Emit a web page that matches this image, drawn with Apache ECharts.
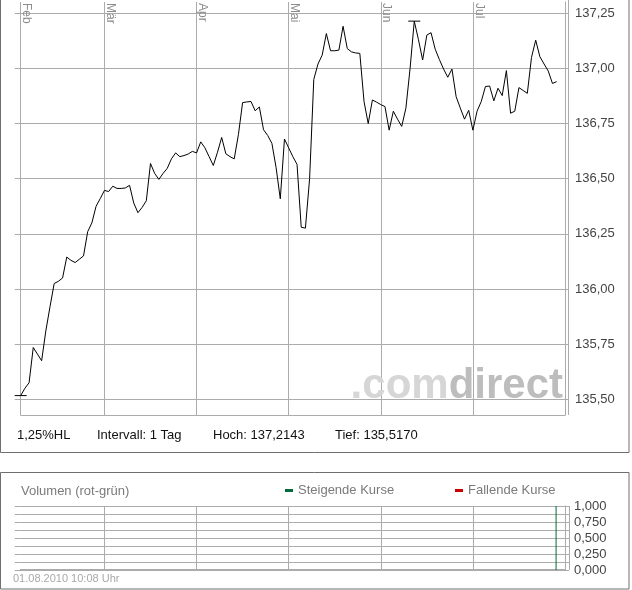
<!DOCTYPE html>
<html>
<head>
<meta charset="utf-8">
<script src="https://cdn.jsdelivr.net/npm/echarts@6/dist/echarts.min.js"></script>
<style>
html,body{margin:0;padding:0;background:#fff;}
#chart{width:632px;height:590px;}
</style>
</head>
<body>
<div id="chart"></div>
<script>
// ---- data ----
const monthNames = ['Feb', 'Mär', 'Apr', 'Mai', 'Jun', 'Jul'];
const monthStartIndex = [0, 20, 42, 64, 86, 108];
const slotCount = 131;
const categories = Array.from({length: slotCount}, (_, i) => 'Tag ' + (i + 1));

const priceValues = [
  135.517, 135.550, 135.575, 135.735, 135.705, 135.675, 135.810, 135.920, 136.025, 136.035,
  136.050, 136.145, 136.130, 136.120, 136.135, 136.150, 136.260, 136.300, 136.375, 136.410,
  136.447, 136.442, 136.466, 136.456, 136.456, 136.458, 136.470, 136.390, 136.346, 136.370,
  136.400, 136.569, 136.524, 136.497, 136.524, 136.547, 136.590, 136.617, 136.600, 136.605,
  136.612, 136.624, 136.617, 136.667, 136.640, 136.600, 136.560, 136.620, 136.687, 136.613,
  136.600, 136.590, 136.700, 136.845, 136.848, 136.850, 136.808, 136.825, 136.722, 136.696,
  136.660, 136.550, 136.409, 136.680, 136.640, 136.600, 136.565, 136.280, 136.276, 136.500,
  136.950, 137.020, 137.060, 137.158, 137.080, 137.080, 137.083, 137.191, 137.090, 137.075,
  137.070, 137.068, 136.850, 136.750, 136.857, 136.847, 136.836, 136.827, 136.720, 136.806,
  136.770, 136.737, 136.820, 137.000, 137.2143, 137.130, 137.038, 137.151, 137.162, 137.087,
  137.040, 136.997, 136.960, 136.997, 136.872, 136.820, 136.770, 136.810, 136.720, 136.806,
  136.850, 136.918, 136.920, 136.853, 136.910, 136.877, 136.990, 136.797, 136.806, 136.913,
  136.900, 136.887, 137.050, 137.128, 137.053, 137.020, 136.988, 136.932, 136.940
];

const priceTicks = [135.50, 135.75, 136.00, 136.25, 136.50, 136.75, 137.00, 137.25];
const priceMin = 135.429;
const priceMax = 137.301;

const volumeTicks = [0, 0.25, 0.5, 0.75, 1];
const volumeUpIndex = [128];
const volumeUpValue = [1];
const volumeUp = categories.map((_, i) => {
  const k = volumeUpIndex.indexOf(i);
  return k >= 0 ? volumeUpValue[k] : null;
});
const volumeDown = categories.map(() => null);

const infoTexts = ['1,25%HL', 'Intervall: 1 Tag', 'Hoch: 137,2143', 'Tief: 135,5170'];
const infoX = [17, 97, 213, 335];

// ---- chart ----
const FONT = '"Liberation Sans", Arial, sans-serif';
const GRID = '#ababab';
const chart = echarts.init(document.getElementById('chart'), null, {renderer: 'canvas'});
const isMonth = (i) => monthStartIndex.indexOf(i) >= 0;
const comma = (v, d) => v.toFixed(d).replace('.', ',');

chart.setOption({
  animation: false,
  backgroundColor: '#ffffff',
  textStyle: {fontFamily: FONT},
  grid: [
    {left: 20.7, right: 67, top: 0, bottom: 175, containLabel: false},
    {left: 20.7, right: 67, top: 506, bottom: 20, containLabel: false}
  ],
  legend: [
    {data: ['Steigende Kurse'], left: 285, top: 484, padding: 0, icon: 'rect',
     itemWidth: 8, itemHeight: 3, itemGap: 6, selectedMode: false,
     textStyle: {color: '#7a7a7a', fontSize: 13, fontFamily: FONT}},
    {data: ['Fallende Kurse'], left: 455, top: 484, padding: 0, icon: 'rect',
     itemWidth: 8, itemHeight: 3, itemGap: 6, selectedMode: false,
     textStyle: {color: '#7a7a7a', fontSize: 13, fontFamily: FONT}}
  ],
  xAxis: [
    {type: 'category', gridIndex: 0, data: categories, boundaryGap: false,
     axisLine: {show: true, lineStyle: {color: GRID, width: 1}},
     axisTick: {show: false}, axisLabel: {show: false},
     splitLine: {show: true, interval: (i) => isMonth(i), lineStyle: {color: GRID, width: 1}}},
    {type: 'category', gridIndex: 0, position: 'top', data: categories, boundaryGap: false,
     axisLine: {show: false}, axisTick: {show: false}, splitLine: {show: false},
     axisLabel: {show: true, inside: true, rotate: 90, margin: 1,
       interval: (i) => isMonth(i),
       formatter: (v, i) => { const k = monthStartIndex.indexOf(i); return k >= 0 ? monthNames[k] : ''; },
       verticalAlign: 'bottom', color: '#8c8c8c', fontSize: 12, fontFamily: FONT}},
    {type: 'category', gridIndex: 1, data: categories, boundaryGap: false,
     axisLine: {show: true, lineStyle: {color: GRID, width: 2}},
     axisTick: {show: false}, axisLabel: {show: false},
     splitLine: {show: true, interval: (i) => i > 0 && isMonth(i), lineStyle: {color: GRID, width: 1}}}
  ],
  yAxis: [
    {type: 'value', gridIndex: 0, position: 'right', min: priceMin, max: priceMax,
     axisLine: {show: true, lineStyle: {color: GRID}},
     axisTick: {show: true, length: 3, customValues: priceTicks, lineStyle: {color: GRID}},
     axisLabel: {show: true, customValues: priceTicks, margin: 10, color: '#444', fontSize: 13,
       fontFamily: FONT, formatter: (v) => comma(v, 2)},
     splitLine: {show: true, lineStyle: {color: GRID, width: 1}}},
    {type: 'value', gridIndex: 0, position: 'left', min: priceMin, max: priceMax,
     axisLine: {show: false},
     axisTick: {show: true, length: 6, customValues: priceTicks, lineStyle: {color: GRID}},
     axisLabel: {show: false}, splitLine: {show: false}},
    {type: 'value', gridIndex: 1, position: 'right', min: 0, max: 1, interval: 0.125,
     axisLine: {show: true, lineStyle: {color: GRID}},
     axisTick: {show: true, length: 4, lineStyle: {color: GRID}},
     axisLabel: {show: true, customValues: volumeTicks, margin: 9, color: '#444', fontSize: 13,
       fontFamily: FONT, formatter: (v) => comma(v, 3)},
     splitLine: {show: true, lineStyle: {color: GRID, width: 1}}},
    {type: 'value', gridIndex: 1, position: 'left', min: 0, max: 1, interval: 0.125,
     axisLine: {show: false},
     axisTick: {show: true, length: 6, lineStyle: {color: GRID}},
     axisLabel: {show: false}, splitLine: {show: false}}
  ],
  series: [
    {type: 'line', name: 'Kurs', xAxisIndex: 0, yAxisIndex: 0, data: priceValues,
     showSymbol: false, symbol: 'none', z: 5,
     lineStyle: {color: '#000', width: 1}, itemStyle: {color: '#000'},
     markPoint: {symbol: 'rect', symbolSize: [12, 1], label: {show: false}, silent: true,
       itemStyle: {color: '#000'},
       data: [{type: 'max'}, {type: 'min'}]}},
    {type: 'bar', name: 'Steigende Kurse', xAxisIndex: 2, yAxisIndex: 2, data: volumeUp,
     barWidth: 1, itemStyle: {color: '#006b3c'}},
    {type: 'bar', name: 'Fallende Kurse', xAxisIndex: 2, yAxisIndex: 2, data: volumeDown,
     barWidth: 1, itemStyle: {color: '#cc0000'}}
  ],
  graphic: [
    {type: 'rect', z: 100, silent: true, shape: {x: 0.5, y: -2, width: 628.5, height: 454.5},
     style: {fill: 'none', stroke: '#6f6f6f', lineWidth: 1}},
    {type: 'rect', z: 100, silent: true, shape: {x: 0.5, y: 472.5, width: 628.5, height: 116.5},
     style: {fill: 'none', stroke: '#6f6f6f', lineWidth: 1}},
    {type: 'line', z: 1, silent: true, shape: {x1: 568.5, y1: 0, x2: 568.5, y2: 415},
     style: {stroke: GRID, lineWidth: 1}},
    {type: 'line', z: 1, silent: true, shape: {x1: 569.5, y1: 506, x2: 569.5, y2: 570},
     style: {stroke: GRID, lineWidth: 1}},
    {type: 'text', z: 3, silent: true, x: 563, y: 407,
     style: {text: '{a|.com}{b|direct}', align: 'right', verticalAlign: 'bottom',
       rich: {
         a: {fontSize: 42, fontFamily: FONT, fontWeight: 'bold', fill: '#d6d6d6'},
         b: {fontSize: 42, fontFamily: FONT, fontWeight: 'bold', fill: '#bdbdbd'}
       }}},
    ...infoTexts.map((t, k) => ({type: 'text', silent: true, x: infoX[k], y: 435,
      style: {text: t, fill: '#111', font: '13px ' + FONT, verticalAlign: 'middle'}})),
    {type: 'text', silent: true, x: 21, y: 491,
     style: {text: 'Volumen (rot-grün)', fill: '#7a7a7a', font: '13px ' + FONT, verticalAlign: 'middle'}},
    {type: 'text', silent: true, x: 13, y: 579,
     style: {text: '01.08.2010 10:08 Uhr', fill: '#a8a8a8', font: '11px ' + FONT, verticalAlign: 'middle'}}
  ]
});
</script>
</body>
</html>
